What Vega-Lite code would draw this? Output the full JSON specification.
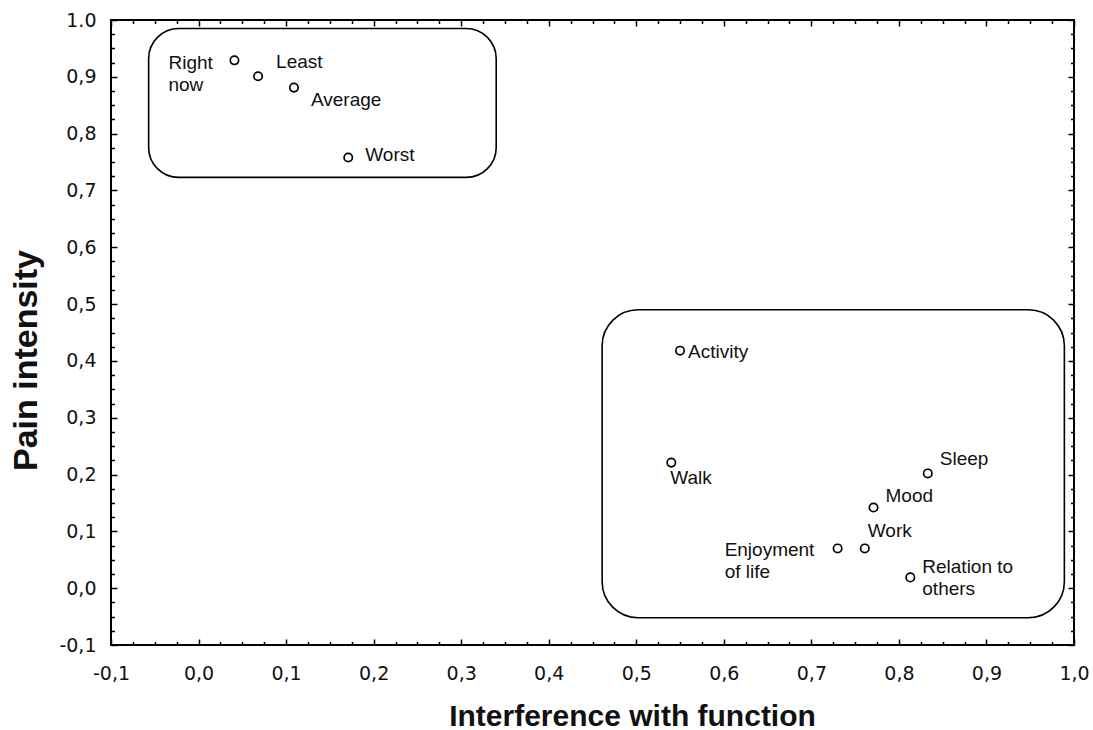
{
  "$schema": "https://vega.github.io/schema/vega-lite/v6.json",
  "autosize": {"type": "none"},
  "padding": {"left": 111, "top": 20, "right": 19, "bottom": 85},
  "width": 963,
  "height": 625,
  "background": "white",
  "config": {
    "view": {"stroke": "black", "strokeWidth": 2},
    "axis": {
      "domain": false,
      "grid": false,
      "tickColor": "black",
      "tickWidth": 1.5,
      "labelFont": "DejaVu Sans",
      "labelFontSize": 19,
      "labelColor": "#111",
      "titleFont": "Liberation Sans",
      "titleFontWeight": "bold",
      "titleColor": "#111"
    },
    "text": {"font": "Liberation Sans", "fontSize": 19, "color": "#111", "baseline": "middle", "lineBreak": "\n", "lineHeight": 22}
  },
  "datasets": {
    "points": [
      {"label": "Right\nnow", "interference": 0.041, "pain": 0.929},
      {"label": "Least", "interference": 0.068, "pain": 0.901},
      {"label": "Average", "interference": 0.109, "pain": 0.881},
      {"label": "Worst", "interference": 0.171, "pain": 0.758},
      {"label": "Activity", "interference": 0.550, "pain": 0.418},
      {"label": "Walk", "interference": 0.540, "pain": 0.221},
      {"label": "Sleep", "interference": 0.833, "pain": 0.202},
      {"label": "Mood", "interference": 0.771, "pain": 0.142},
      {"label": "Enjoyment\nof life", "interference": 0.730, "pain": 0.070},
      {"label": "Work", "interference": 0.761, "pain": 0.070},
      {"label": "Relation to\nothers", "interference": 0.813, "pain": 0.019}
    ],
    "boxes": [
      {"group": "pain", "x1": -0.057, "x2": 0.340, "y1": 0.985, "y2": 0.723},
      {"group": "function", "x1": 0.461, "x2": 0.989, "y1": 0.490, "y2": -0.052}
    ]
  },
  "resolve": {"axis": {"x": "independent", "y": "independent"}},
  "layer": [
    {
      "data": {"name": "boxes"},
      "transform": [{"filter": "datum.group == 'pain'"}],
      "mark": {"type": "rect", "fill": null, "fillOpacity": 0, "stroke": "black", "strokeWidth": 1.6, "cornerRadius": 30},
      "encoding": {
        "x": {"field": "x1", "type": "quantitative",
          "scale": {"domain": [-0.1, 1.0], "nice": false, "zero": false},
          "axis": {
            "orient": "bottom",
            "values": [-0.1, -0.075, -0.05, -0.025, 0, 0.025, 0.05, 0.075, 0.1, 0.125, 0.15, 0.175, 0.2, 0.225, 0.25, 0.275, 0.3, 0.325, 0.35, 0.375, 0.4, 0.425, 0.45, 0.475, 0.5, 0.525, 0.55, 0.575, 0.6, 0.625, 0.65, 0.675, 0.7, 0.725, 0.75, 0.775, 0.8, 0.825, 0.85, 0.875, 0.9, 0.925, 0.95, 0.975, 1.0],
            "labelExpr": "abs(datum.value*10 - round(datum.value*10)) < 0.001 ? (datum.value < -0.0001 ? '-' : '') + replace(format(abs(datum.value), '.1f'), '.', ',') : ''",
            "tickSize": {"condition": {"test": "abs(datum.value*10 - round(datum.value*10)) < 0.001", "value": -6}, "value": -3.5},
            "labelPadding": 25,
            "labelFlush": false,
            "labelOverlap": false,
            "title": "Interference with function",
            "titleFontSize": 30,
            "titleX": 521,
            "titleY": 80,
            "titleAlign": "center",
            "titleBaseline": "alphabetic"
          }
        },
        "x2": {"field": "x2"},
        "y": {"field": "y1", "type": "quantitative",
          "scale": {"domain": [-0.1, 1.0], "nice": false, "zero": false},
          "axis": {
            "orient": "left",
            "values": [-0.1, -0.075, -0.05, -0.025, 0, 0.025, 0.05, 0.075, 0.1, 0.125, 0.15, 0.175, 0.2, 0.225, 0.25, 0.275, 0.3, 0.325, 0.35, 0.375, 0.4, 0.425, 0.45, 0.475, 0.5, 0.525, 0.55, 0.575, 0.6, 0.625, 0.65, 0.675, 0.7, 0.725, 0.75, 0.775, 0.8, 0.825, 0.85, 0.875, 0.9, 0.925, 0.95, 0.975, 1.0],
            "labelExpr": "abs(datum.value*10 - round(datum.value*10)) < 0.001 ? (datum.value > 0.999 ? '1.0' : (datum.value < -0.0001 ? '-' : '') + replace(format(abs(datum.value), '.1f'), '.', ',')) : ''",
            "tickSize": {"condition": {"test": "abs(datum.value*10 - round(datum.value*10)) < 0.001", "value": -6}, "value": -3.5},
            "labelPadding": 21,
            "labelFlush": false,
            "labelOverlap": false,
            "title": "Pain intensity",
            "titleFontSize": 34,
            "titleX": -75,
            "titleY": 340,
            "titleAngle": -90,
            "titleAlign": "center",
            "titleBaseline": "alphabetic"
          }
        },
        "y2": {"field": "y2"}
      }
    },
    {
      "data": {"name": "boxes"},
      "transform": [{"filter": "datum.group == 'function'"}],
      "mark": {"type": "rect", "fill": null, "fillOpacity": 0, "stroke": "black", "strokeWidth": 1.6, "cornerRadius": 36},
      "encoding": {
        "x": {"field": "x1", "type": "quantitative", "scale": {"domain": [-0.1, 1.0], "nice": false, "zero": false}, "axis": null},
        "x2": {"field": "x2"},
        "y": {"field": "y1", "type": "quantitative", "scale": {"domain": [-0.1, 1.0], "nice": false, "zero": false}, "axis": null},
        "y2": {"field": "y2"}
      }
    },
    {
      "data": {"name": "points"},
      "mark": {"type": "point", "shape": "circle", "filled": false, "stroke": "black", "strokeWidth": 1.7, "size": 70, "opacity": 1},
      "encoding": {
        "x": {"field": "interference", "type": "quantitative",
          "scale": {"domain": [-0.1, 1.0], "nice": false, "zero": false},
          "axis": {
            "orient": "top",
            "values": [-0.1, -0.075, -0.05, -0.025, 0, 0.025, 0.05, 0.075, 0.1, 0.125, 0.15, 0.175, 0.2, 0.225, 0.25, 0.275, 0.3, 0.325, 0.35, 0.375, 0.4, 0.425, 0.45, 0.475, 0.5, 0.525, 0.55, 0.575, 0.6, 0.625, 0.65, 0.675, 0.7, 0.725, 0.75, 0.775, 0.8, 0.825, 0.85, 0.875, 0.9, 0.925, 0.95, 0.975, 1.0],
            "labels": false,
            "title": null,
            "tickSize": {"condition": {"test": "abs(datum.value*10 - round(datum.value*10)) < 0.001", "value": -6}, "value": -3.5}
          }
        },
        "y": {"field": "pain", "type": "quantitative",
          "scale": {"domain": [-0.1, 1.0], "nice": false, "zero": false},
          "axis": {
            "orient": "right",
            "values": [-0.1, -0.075, -0.05, -0.025, 0, 0.025, 0.05, 0.075, 0.1, 0.125, 0.15, 0.175, 0.2, 0.225, 0.25, 0.275, 0.3, 0.325, 0.35, 0.375, 0.4, 0.425, 0.45, 0.475, 0.5, 0.525, 0.55, 0.575, 0.6, 0.625, 0.65, 0.675, 0.7, 0.725, 0.75, 0.775, 0.8, 0.825, 0.85, 0.875, 0.9, 0.925, 0.95, 0.975, 1.0],
            "labels": false,
            "title": null,
            "tickSize": {"condition": {"test": "abs(datum.value*10 - round(datum.value*10)) < 0.001", "value": -6}, "value": -3.5}
          }
        }
      }
    },
    {"data": {"name": "points"}, "transform": [{"filter": "datum.label == 'Right\\nnow'"}], "mark": {"type": "text", "align": "left", "dx": -66, "dy": 3}, "encoding": {"x": {"field": "interference", "type": "quantitative", "axis": null}, "y": {"field": "pain", "type": "quantitative", "axis": null}, "text": {"field": "label"}}},
    {"data": {"name": "points"}, "transform": [{"filter": "datum.label == 'Least'"}], "mark": {"type": "text", "align": "left", "dx": 18, "dy": -14}, "encoding": {"x": {"field": "interference", "type": "quantitative", "axis": null}, "y": {"field": "pain", "type": "quantitative", "axis": null}, "text": {"field": "label"}}},
    {"data": {"name": "points"}, "transform": [{"filter": "datum.label == 'Average'"}], "mark": {"type": "text", "align": "left", "dx": 17, "dy": 12}, "encoding": {"x": {"field": "interference", "type": "quantitative", "axis": null}, "y": {"field": "pain", "type": "quantitative", "axis": null}, "text": {"field": "label"}}},
    {"data": {"name": "points"}, "transform": [{"filter": "datum.label == 'Worst'"}], "mark": {"type": "text", "align": "left", "dx": 17, "dy": -3}, "encoding": {"x": {"field": "interference", "type": "quantitative", "axis": null}, "y": {"field": "pain", "type": "quantitative", "axis": null}, "text": {"field": "label"}}},
    {"data": {"name": "points"}, "transform": [{"filter": "datum.label == 'Activity'"}], "mark": {"type": "text", "align": "left", "dx": 8, "dy": 1}, "encoding": {"x": {"field": "interference", "type": "quantitative", "axis": null}, "y": {"field": "pain", "type": "quantitative", "axis": null}, "text": {"field": "label"}}},
    {"data": {"name": "points"}, "transform": [{"filter": "datum.label == 'Walk'"}], "mark": {"type": "text", "align": "left", "dx": -1, "dy": 15}, "encoding": {"x": {"field": "interference", "type": "quantitative", "axis": null}, "y": {"field": "pain", "type": "quantitative", "axis": null}, "text": {"field": "label"}}},
    {"data": {"name": "points"}, "transform": [{"filter": "datum.label == 'Sleep'"}], "mark": {"type": "text", "align": "left", "dx": 12, "dy": -14}, "encoding": {"x": {"field": "interference", "type": "quantitative", "axis": null}, "y": {"field": "pain", "type": "quantitative", "axis": null}, "text": {"field": "label"}}},
    {"data": {"name": "points"}, "transform": [{"filter": "datum.label == 'Mood'"}], "mark": {"type": "text", "align": "left", "dx": 12, "dy": -12}, "encoding": {"x": {"field": "interference", "type": "quantitative", "axis": null}, "y": {"field": "pain", "type": "quantitative", "axis": null}, "text": {"field": "label"}}},
    {"data": {"name": "points"}, "transform": [{"filter": "datum.label == 'Work'"}], "mark": {"type": "text", "align": "left", "dx": 3, "dy": -17}, "encoding": {"x": {"field": "interference", "type": "quantitative", "axis": null}, "y": {"field": "pain", "type": "quantitative", "axis": null}, "text": {"field": "label"}}},
    {"data": {"name": "points"}, "transform": [{"filter": "datum.label == 'Enjoyment\\nof life'"}], "mark": {"type": "text", "align": "left", "dx": -113, "dy": 2}, "encoding": {"x": {"field": "interference", "type": "quantitative", "axis": null}, "y": {"field": "pain", "type": "quantitative", "axis": null}, "text": {"field": "label"}}},
    {"data": {"name": "points"}, "transform": [{"filter": "datum.label == 'Relation to\\nothers'"}], "mark": {"type": "text", "align": "left", "dx": 12, "dy": -10}, "encoding": {"x": {"field": "interference", "type": "quantitative", "axis": null}, "y": {"field": "pain", "type": "quantitative", "axis": null}, "text": {"field": "label"}}}
  ]
}
